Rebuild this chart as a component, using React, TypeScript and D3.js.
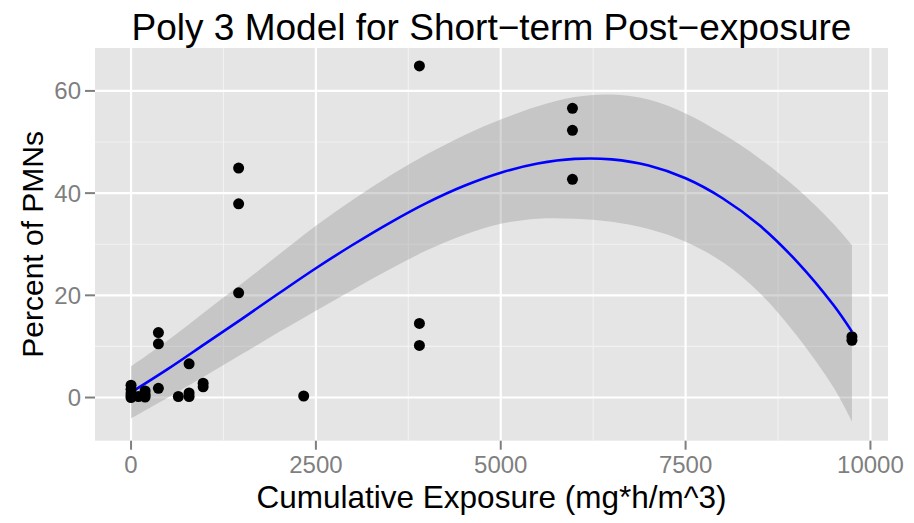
import React from "react";
import * as d3 from "d3";

// ---- data ----
const pointX = [0, 0, 0, 0, 0, 100, 190, 190, 190, 370, 370, 370, 640, 785, 785, 785, 975, 975, 1455, 1455, 1455, 2335, 3900, 3900, 3900, 5970, 5970, 5970, 9750, 9750];
const pointY = [0, 0.4, 0.9, 1.6, 2.4, 0.2, 0.1, 0.6, 1.3, 12.7, 10.5, 1.8, 0.2, 6.6, 0.9, 0.2, 2.8, 2.1, 44.9, 37.9, 20.5, 0.3, 64.9, 14.5, 10.2, 56.6, 52.3, 42.7, 11.9, 11.2];

const fitX = [0, 500, 1000, 1500, 2000, 2500, 3000, 3500, 4000, 4500, 5000, 5500, 6000, 6500, 7000, 7500, 8000, 8500, 9000, 9500, 9750];
const fitY = [1.0, 5.6, 10.5, 15.4, 20.4, 25.3, 29.9, 34.2, 38.1, 41.4, 44.0, 45.8, 46.7, 46.6, 45.4, 42.9, 39.0, 33.7, 26.7, 18.1, 12.9];
const fitLower = [-4.1, 0.0, 4.2, 8.5, 12.8, 17.0, 21.1, 25.1, 28.8, 31.8, 34.0, 35.0, 35.0, 34.4, 33.0, 30.5, 26.5, 20.5, 12.2, 2.0, -4.7];
const fitUpper = [6.1, 11.2, 16.8, 22.3, 28.0, 33.6, 38.7, 43.4, 47.6, 51.3, 54.4, 57.0, 58.8, 59.3, 58.3, 55.6, 51.6, 46.8, 41.0, 34.0, 29.8];

const xTicks = [0, 2500, 5000, 7500, 10000];
const xMinor = [1250, 3750, 6250, 8750];
const yTicks = [0, 20, 40, 60];
const yMinor = [10, 30, 50];

const titleText = "Poly 3 Model for Short\u2212term Post\u2212exposure";
const xTitle = "Cumulative Exposure (mg*h/m^3)";
const yTitle = "Percent of PMNs";

export default function App() {
  const W = 914, H = 523;
  const left = 95, right = 888, top = 48, bottom = 440.7;
  const x = d3.scaleLinear().domain([-487.5, 10237.5]).range([left, right]);
  const y = d3.scaleLinear().domain([-8.45, 68.4]).range([bottom, top]);

  const fitData = fitX.map((v, i) => ({ x: v, y: fitY[i], lo: fitLower[i], hi: fitUpper[i] }));
  const area = d3.area<any>().x(d => x(d.x)).y0(d => y(d.lo)).y1(d => y(d.hi)).curve(d3.curveCatmullRom);
  const line = d3.line<any>().x(d => x(d.x)).y(d => y(d.y)).curve(d3.curveCatmullRom);

  const font = "'Liberation Sans', Arial, Helvetica, sans-serif";

  return (
    <svg width={W} height={H} style={{ position: "absolute", left: 0, top: 0 }} fontFamily={font}>
      <rect x={0} y={0} width={W} height={H} fill="#ffffff" />
      <rect x={left} y={top} width={right - left} height={bottom - top} fill="#E5E5E5" />
      {xMinor.map(v => (
        <line key={"xm" + v} x1={x(v)} x2={x(v)} y1={top} y2={bottom} stroke="#F2F2F2" strokeWidth={1.1} />
      ))}
      {yMinor.map(v => (
        <line key={"ym" + v} x1={left} x2={right} y1={y(v)} y2={y(v)} stroke="#F2F2F2" strokeWidth={1.1} />
      ))}
      {xTicks.map(v => (
        <line key={"xM" + v} x1={x(v)} x2={x(v)} y1={top} y2={bottom} stroke="#ffffff" strokeWidth={2.2} />
      ))}
      {yTicks.map(v => (
        <line key={"yM" + v} x1={left} x2={right} y1={y(v)} y2={y(v)} stroke="#ffffff" strokeWidth={2.2} />
      ))}
      <path d={area(fitData) || ""} fill="#999999" fillOpacity={0.4} />
      <path d={line(fitData) || ""} fill="none" stroke="#0000FF" strokeWidth={2.6} />
      {pointX.map((v, i) => (
        <circle key={"p" + i} cx={x(v)} cy={y(pointY[i])} r={5.5} fill="#000000" />
      ))}
      {xTicks.map(v => (
        <g key={"xt" + v}>
          <line x1={x(v)} x2={x(v)} y1={bottom} y2={bottom + 9} stroke="#7F7F7F" strokeWidth={2} />
          <text x={x(v)} y={bottom + 32} textAnchor="middle" fontSize={24} fill="#7F7F7F">{v}</text>
        </g>
      ))}
      {yTicks.map(v => (
        <g key={"yt" + v}>
          <line x1={left - 10} x2={left} y1={y(v)} y2={y(v)} stroke="#7F7F7F" strokeWidth={2} />
          <text x={left - 14} y={y(v) + 8.5} textAnchor="end" fontSize={24} fill="#7F7F7F">{v}</text>
        </g>
      ))}
      <text x={(left + right) / 2} y={40} textAnchor="middle" fontSize={37} fill="#000">{titleText}</text>
      <text x={(left + right) / 2} y={508} textAnchor="middle" fontSize={31.5} fill="#000">{xTitle}</text>
      <text transform={`translate(43,${(top + bottom) / 2}) rotate(-90)`} textAnchor="middle" fontSize={30} fill="#000">{yTitle}</text>
    </svg>
  );
}
